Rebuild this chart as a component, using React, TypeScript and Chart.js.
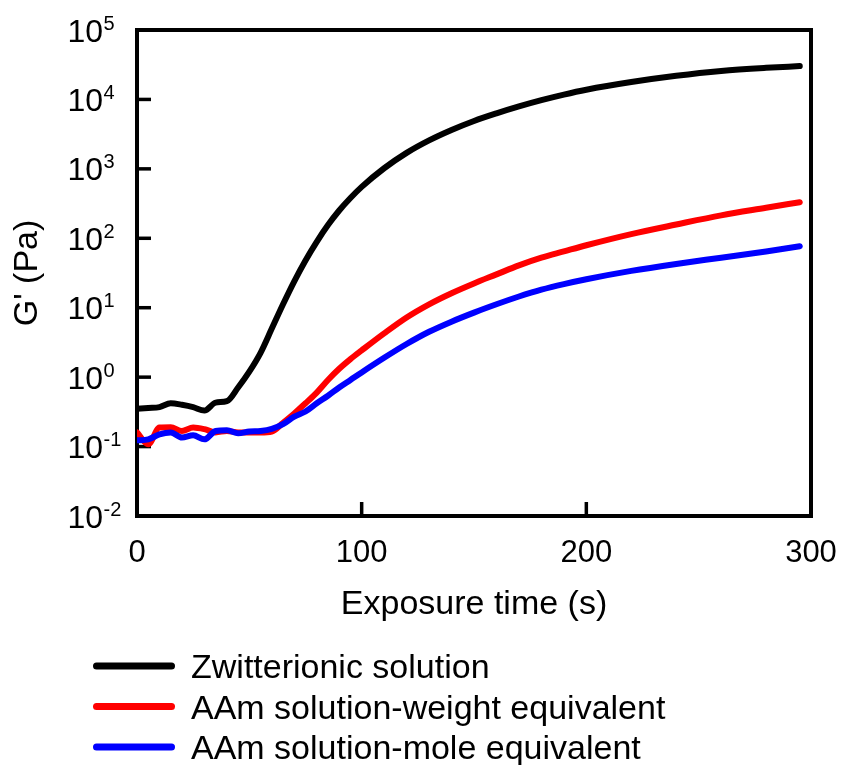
import React, { useEffect, useRef } from "react";
import { Chart, registerables } from "chart.js";

Chart.register(...registerables);

// ---- data ----
const times = [
  0, 5, 10, 15, 20, 25, 30, 35, 40, 45, 50, 55, 60, 65, 70, 75, 80, 85, 90, 95, 100,
  110, 120, 130, 140, 150, 160, 170, 180, 190, 200, 220, 240, 260, 280, 295,
];
const zwitterionic = [
  0.35, 0.36, 0.37, 0.42, 0.4, 0.37, 0.33, 0.43, 0.45, 0.71, 1.2, 2.24, 5.0, 11.2, 24, 48, 89, 155, 251, 380, 550,
  1020, 1700, 2570, 3630, 4900, 6310, 7940, 9770, 11750, 13800, 17800, 21900, 25700, 28500, 30200,
];
const aamWeight = [
  0.16, 0.108, 0.188, 0.19, 0.168, 0.188, 0.178, 0.16, 0.168, 0.16, 0.16, 0.16, 0.165, 0.22, 0.3, 0.42, 0.6, 0.91, 1.32, 1.82, 2.43,
  4.27, 7.24, 11.2, 16.2, 22.4, 30.2, 40.7, 52.5, 64.6, 79.4, 115, 158, 214, 275, 331,
];
const aamMole = [
  0.123, 0.127, 0.15, 0.16, 0.135, 0.146, 0.127, 0.168, 0.172, 0.155, 0.165, 0.168, 0.18, 0.21, 0.27, 0.32, 0.42, 0.54, 0.71, 0.91, 1.17,
  1.9, 3.0, 4.5, 6.3, 8.5, 11.2, 14.5, 18.2, 21.9, 25.7, 33.9, 42.7, 52.5, 64.6, 76.7,
];
const seriesValues = [zwitterionic, aamWeight, aamMole];
const seriesLabels = [
  "Zwitterionic solution",
  "AAm solution-weight equivalent",
  "AAm solution-mole equivalent",
];
const seriesColors = ["#000000", "#FF0000", "#0000FF"];
const seriesOrder = [0, 2, 1];
const xTicks = [0, 100, 200, 300];
const yTickExponents = [-2, -1, 0, 1, 2, 3, 4, 5];
const xTitle = "Exposure time (s)";
const yTitle = "G' (Pa)";

const FONT = "'Liberation Sans', Arial, Helvetica, sans-serif";

export default function App() {
  const ref = useRef<HTMLCanvasElement>(null);

  useEffect(() => {
    const canvas = ref.current;
    if (!canvas) return;

    const frameAndTicks = {
      id: "frameAndTicks",
      beforeDatasetsDraw(chart: any) {
        const { ctx, chartArea: a, scales } = chart;
        const xs = scales.x;
        const ys = scales.y;
        ctx.save();
        ctx.strokeStyle = "#000";
        ctx.lineCap = "butt";
        ctx.lineWidth = 3.5;
        for (const t of ys.ticks) {
          const py = ys.getPixelForValue(t.value);
          ctx.beginPath();
          ctx.moveTo(a.left, py);
          ctx.lineTo(a.left + 14, py);
          ctx.stroke();
        }
        for (const t of xs.ticks) {
          const px = xs.getPixelForValue(t.value);
          ctx.beginPath();
          ctx.moveTo(px, a.bottom);
          ctx.lineTo(px, a.bottom - 14);
          ctx.stroke();
        }
        ctx.lineWidth = 4;
        ctx.strokeRect(a.left, a.top, a.right - a.left, a.bottom - a.top);
        ctx.fillStyle = "#000";
        for (const t of ys.ticks) {
          const py = ys.getPixelForValue(t.value);
          const exp = Math.round(Math.log10(t.value));
          ctx.font = `32px ${FONT}`;
          ctx.textAlign = "right";
          ctx.textBaseline = "alphabetic";
          ctx.fillText("10", 103, py + 11.5);
          ctx.font = `20px ${FONT}`;
          ctx.textAlign = "left";
          ctx.fillText(String(exp), 103.5, py - 0.5);
        }
        ctx.restore();
      },
    };

    const legendPlugin = {
      id: "customLegend",
      afterDraw(chart: any) {
        const { ctx } = chart;
        ctx.save();
        chart.data.datasets.forEach((ds: any, i: number) => {
          const ly = 666 + i * 40.5;
          ctx.strokeStyle = ds.borderColor;
          ctx.lineWidth = 7;
          ctx.lineCap = "round";
          ctx.beginPath();
          ctx.moveTo(96.5, ly);
          ctx.lineTo(171.5, ly);
          ctx.stroke();
          ctx.fillStyle = "#000";
          ctx.font = `34px ${FONT}`;
          ctx.textAlign = "left";
          ctx.textBaseline = "alphabetic";
          ctx.fillText(ds.label, 191, ly + 12);
        });
        ctx.restore();
      },
    };

    const chart = new Chart(canvas, {
      type: "line",
      data: {
        datasets: seriesValues.map((vals, i) => ({
          label: seriesLabels[i],
          data: times.map((t, j) => ({ x: t, y: vals[j] })),
          borderColor: seriesColors[i],
          backgroundColor: seriesColors[i],
          borderWidth: 6,
          pointRadius: 0,
          cubicInterpolationMode: "monotone" as const,
          borderCapStyle: "round" as const,
          borderJoinStyle: "round" as const,
          fill: false,
          order: seriesOrder[i],
        })),
      },
      options: {
        animation: false,
        responsive: false,
        devicePixelRatio: 1,
        layout: { padding: { left: 0, top: 30, right: 32, bottom: 140 } },
        plugins: {
          legend: { display: false },
          tooltip: { enabled: false },
        },
        scales: {
          x: {
            type: "linear",
            min: 0,
            max: 300,
            grid: { display: false, drawTicks: false },
            border: { display: false },
            afterBuildTicks: (s: any) => {
              s.ticks = xTicks.map((v) => ({ value: v }));
            },
            ticks: {
              font: { family: FONT, size: 31 },
              color: "#000",
              padding: 19,
              maxRotation: 0,
              autoSkip: false,
            },
            title: {
              display: true,
              text: xTitle,
              font: { family: FONT, size: 34 },
              color: "#000",
              padding: 0,
            },
            afterFit: (s: any) => {
              s.height = 109;
              s.paddingLeft = 0;
              s.paddingRight = 0;
            },
          },
          y: {
            type: "logarithmic",
            min: 0.01,
            max: 100000,
            grid: { display: false, drawTicks: false },
            border: { display: false },
            afterBuildTicks: (s: any) => {
              s.ticks = yTickExponents.map((e) => ({ value: Math.pow(10, e) }));
            },
            ticks: { display: false },
            title: {
              display: true,
              text: yTitle,
              font: { family: FONT, size: 34 },
              color: "#000",
              padding: { top: 7, bottom: 0 },
            },
            afterFit: (s: any) => {
              s.width = 137;
              s.paddingTop = 0;
              s.paddingBottom = 0;
            },
          },
        },
      },
      plugins: [frameAndTicks, legendPlugin],
    } as any);

    return () => chart.destroy();
  }, []);

  return (
    <div
      style={{
        position: "absolute",
        left: 0,
        top: 0,
        width: 843,
        height: 765,
        background: "#fff",
      }}
    >
      <canvas ref={ref} width={843} height={765} style={{ display: "block" }} />
    </div>
  );
}
